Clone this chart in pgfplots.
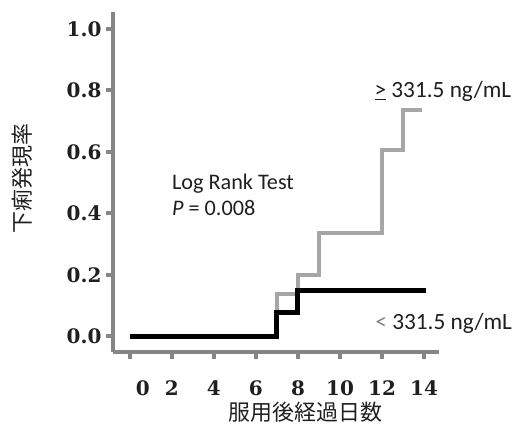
\documentclass[border=0pt]{standalone}
\usepackage{fontspec}
\usepackage{pgfplots}
\pgfplotsset{compat=1.18}
\setmainfont{Carlito}
\newfontfamily\dvserif{DejaVu Serif}
\newfontfamily\jpfont{Noto Sans CJK JP}
\definecolor{axisgray}{HTML}{858585}
\definecolor{stepgray}{HTML}{A6A6A6}
\definecolor{txt}{HTML}{1F1F1F}
\newcommand{\numfnt}{\fontsize{15}{17}\selectfont\dvserif\bfseries}

% 1 px of the reference = 0.75pt
\begin{document}
\begin{tikzpicture}
\begin{axis}[
  scale only axis,
  width=245.25pt, height=255.75pt,
  xmin=-0.81, xmax=14.71,
  ymin=-0.052, ymax=1.055,
  clip=false,
  axis x line*=bottom, axis y line*=left,
  axis line style={draw=axisgray, line width=3pt, -},
  xtick={0,2,4,6,8,10,12,14},
  ytick={0,0.2,0.4,0.6,0.8,1.0},
  tick align=outside,
  major tick length=5pt,
  tick style={draw=axisgray, line width=3pt},
  /pgf/number format/assume math mode=true,
  xticklabel style={text=txt, anchor=north, inner sep=0pt, yshift=-16.5pt},
  yticklabel style={text=txt, anchor=east},
  xticklabels={{\numfnt\hspace*{19.5pt}0},{\numfnt 2},{\numfnt 4},{\numfnt 6},{\numfnt 8},{\numfnt 10},{\numfnt 12},{\numfnt 14}},
  yticklabel={\numfnt\pgfmathprintnumber[fixed,fixed zerofill,precision=1]{\tick}},
  xlabel={服用後経過日数},
  ylabel={下痢発現率},
  label style={font=\jpfont\fontsize{16.5}{18}\selectfont, text=txt, inner sep=0pt},
  xlabel style={at={(rel axis cs:0.59,0)}, anchor=center, yshift=-45pt},
  ylabel style={at={(rel axis cs:0,0.51)}, anchor=center, yshift=68.25pt},
]
% >= 331.5 ng/mL
\addplot[const plot mark left, draw=stepgray, line width=3pt, mark=none]
  coordinates {(0,0) (7,0.136) (8,0.200) (9,0.337) (12,0.605) (13,0.735) (13.9,0.735)};
% < 331.5 ng/mL
\addplot[const plot mark left, draw=black, line width=3.75pt, mark=none]
  coordinates {(0,0) (7,0.077) (8,0.150) (14.1,0.150)};

\node[anchor=base west, inner sep=0pt, text=txt, font=\fontsize{16.7}{18}\selectfont]
  at (axis cs:2.0,0.477) {Log Rank Test};
\node[anchor=base west, inner sep=0pt, text=txt, font=\fontsize{16.7}{18}\selectfont]
  at (axis cs:2.0,0.393) {\textit{P} = 0.008};
\node[anchor=base west, inner sep=0pt, text=txt, font=\fontsize{17.5}{18}\selectfont]
  at (axis cs:11.63,0.776) {\underline{>} 331.5 ng/mL};
\node[anchor=base west, inner sep=0pt, text=txt, font=\fontsize{17.5}{18}\selectfont]
  at (axis cs:11.67,0.023) {\textcolor{gray}{<} 331.5 ng/mL};
\end{axis}
\path[use as bounding box]
  ([xshift=-84.75pt,yshift=-64.5pt]current axis.south west)
  rectangle ([xshift=299.25pt,yshift=264.75pt]current axis.south west);
\end{tikzpicture}
\end{document}
